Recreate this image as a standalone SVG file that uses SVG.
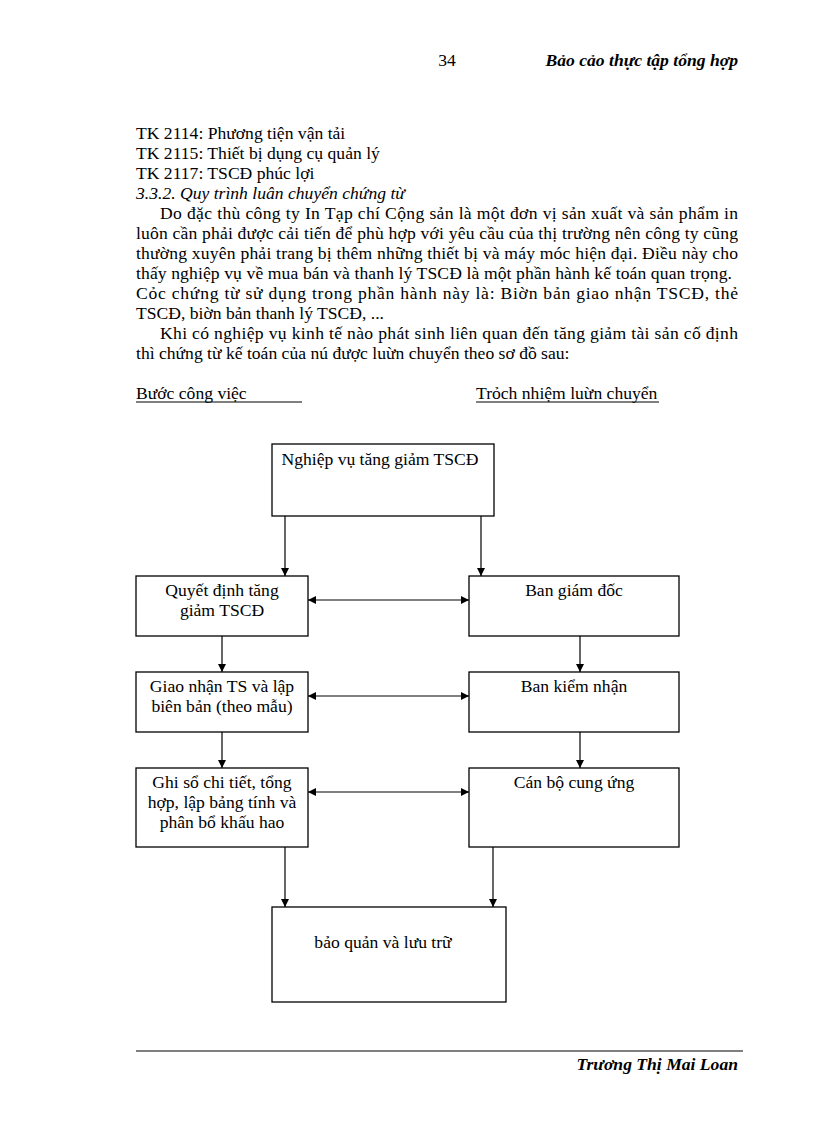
<svg xmlns="http://www.w3.org/2000/svg" width="816" height="1123" viewBox="0 0 816 1123">
<style>
text{font-family:"Liberation Serif","Times New Roman",serif;font-size:17.6px;fill:#000}
.bi{font-weight:bold;font-style:italic}
.it{font-style:italic}
.c{text-anchor:middle}
.box{fill:#fff;stroke:#000;stroke-width:1.3}
.ln{stroke:#000;stroke-width:1.2;fill:none}
</style>
<defs>
<marker id="ah" viewBox="0 0 10 10" refX="10" refY="5" markerWidth="8" markerHeight="8" markerUnits="userSpaceOnUse" orient="auto-start-reverse">
<path d="M0,0 L10,5 L0,10 z" fill="#000"/>
</marker>
</defs>
<rect width="816" height="1123" fill="#fff"/>
<g id="header">
<text x="447" y="66" class="c">34</text>
<text x="738" y="66" class="bi" text-anchor="end">Bảo cảo thực tập tổng hợp</text>
</g>
<g id="body">
<text x="136" y="139">TK 2114: Phương tiện vận tải</text>
<text x="136" y="159">TK 2115: Thiết bị dụng cụ quản lý</text>
<text x="136" y="179">TK 2117: TSCĐ phúc lợi</text>
<text x="136" y="199" class="it">3.3.2. Quy trình luân chuyển chứng từ</text>
<text x="160" y="219" textLength="578" lengthAdjust="spacing">Do đặc thù công ty In Tạp chí Cộng sản là một đơn vị sản xuất và sản phẩm in</text>
<text x="136" y="239" textLength="602" lengthAdjust="spacing">luôn cần phải được cải tiến để phù hợp với yêu cầu của thị trường nên công ty cũng</text>
<text x="136" y="259" textLength="602" lengthAdjust="spacing">thường xuyên phải trang bị thêm những thiết bị và máy móc hiện đại. Điều này cho</text>
<text x="136" y="279" textLength="596" lengthAdjust="spacing">thấy nghiệp vụ về mua bán và thanh lý TSCĐ  là một phần hành kế toán quan trọng.</text>
<text x="136" y="299" textLength="602" lengthAdjust="spacing">Cỏc chứng từ sử dụng trong phần hành này là: Biờn bản giao nhận TSCĐ, thẻ</text>
<text x="136" y="319">TSCĐ, biờn bản thanh lý TSCĐ, ...</text>
<text x="160" y="339" textLength="578" lengthAdjust="spacing">Khi có nghiệp vụ kinh tế nào phát sinh liên quan đến tăng giảm tài sản cố định</text>
<text x="136" y="359">thì chứng từ kế toán của nú được luừn chuyển theo sơ đồ sau:</text>
<text x="136" y="399">Bước công việc</text>
<line x1="136" y1="402" x2="302" y2="402" stroke="#000" stroke-width="1"/>
<text x="476" y="399">Trỏch nhiệm luừn chuyển</text>
<line x1="476" y1="402" x2="659" y2="402" stroke="#000" stroke-width="1"/>
</g>
<g id="connectors">
<line class="ln" x1="285" y1="516" x2="285" y2="576" marker-end="url(#ah)"/>
<line class="ln" x1="481" y1="516" x2="481" y2="576" marker-end="url(#ah)"/>
<line class="ln" x1="222" y1="636" x2="222" y2="672" marker-end="url(#ah)"/>
<line class="ln" x1="580" y1="636" x2="580" y2="672" marker-end="url(#ah)"/>
<line class="ln" x1="222" y1="732" x2="222" y2="768" marker-end="url(#ah)"/>
<line class="ln" x1="580" y1="732" x2="580" y2="768" marker-end="url(#ah)"/>
<line class="ln" x1="285" y1="847" x2="285" y2="907" marker-end="url(#ah)"/>
<line class="ln" x1="493" y1="847" x2="493" y2="907" marker-end="url(#ah)"/>
<line class="ln" x1="308" y1="600" x2="469" y2="600" marker-start="url(#ah)" marker-end="url(#ah)"/>
<line class="ln" x1="308" y1="696" x2="469" y2="696" marker-start="url(#ah)" marker-end="url(#ah)"/>
<line class="ln" x1="308" y1="792" x2="469" y2="792" marker-start="url(#ah)" marker-end="url(#ah)"/>
</g>
<g id="n-top"><rect class="box" x="272" y="444" width="222" height="72"/><text x="380" y="465" class="c">Nghiệp vụ tăng giảm TSCĐ</text></g>
<g id="n-quyetdinh"><rect class="box" x="136" y="576" width="172" height="60"/><text x="222" y="596" class="c">Quyết định tăng</text><text x="222" y="616" class="c">giảm TSCĐ</text></g>
<g id="n-bgd"><rect class="box" x="469" y="576" width="210" height="60"/><text x="574" y="596" class="c">Ban giám đốc</text></g>
<g id="n-giaonhan"><rect class="box" x="136" y="672" width="172" height="60"/><text x="222" y="692" class="c">Giao nhận TS và lập</text><text x="222" y="712" class="c">biên bản (theo mẫu)</text></g>
<g id="n-bkn"><rect class="box" x="469" y="672" width="210" height="60"/><text x="574" y="692" class="c">Ban kiểm nhận</text></g>
<g id="n-ghiso"><rect class="box" x="136" y="768" width="172" height="79"/><text x="222" y="788" class="c">Ghi sổ chi tiết, tổng</text><text x="222" y="808" class="c">hợp, lập bảng tính và</text><text x="222" y="828" class="c">phân bổ khấu hao</text></g>
<g id="n-cbcu"><rect class="box" x="469" y="768" width="210" height="79"/><text x="574" y="788" class="c">Cán bộ cung ứng</text></g>
<g id="n-baoquan"><rect class="box" x="272" y="907" width="234" height="95"/><text x="383" y="948" class="c">bảo quản và lưu trữ</text></g>
<g id="footer">
<line x1="136" y1="1051" x2="743" y2="1051" stroke="#000" stroke-width="1.2"/>
<text x="738" y="1070" class="bi" text-anchor="end">Trương Thị Mai Loan</text>
</g>
</svg>
